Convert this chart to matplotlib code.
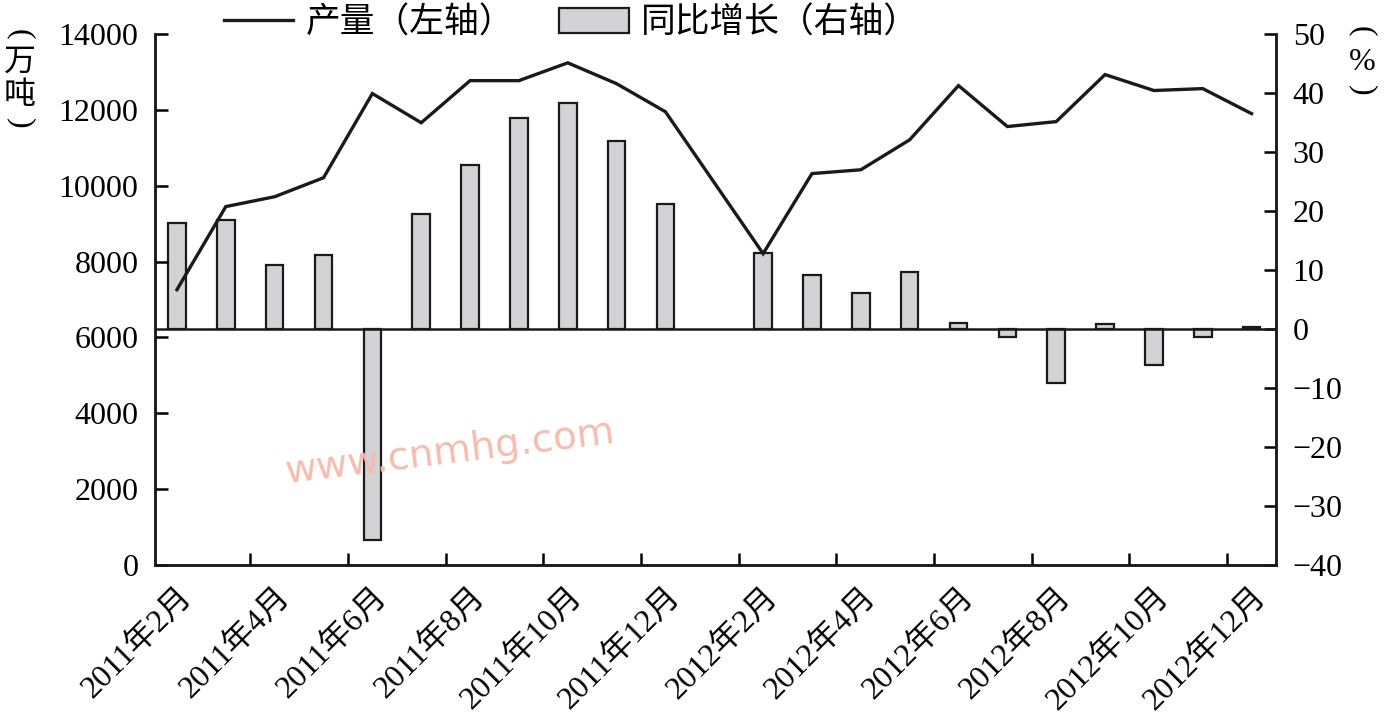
import numpy as np
import matplotlib
matplotlib.use("Agg")
import matplotlib.pyplot as plt
from matplotlib.lines import Line2D
from matplotlib.patches import Patch

plt.rcParams['font.family'] = ['Liberation Serif', 'Noto Sans CJK SC', 'DejaVu Sans']
plt.rcParams['axes.unicode_minus'] = True

# -- Data (2011-02 .. 2012-12, no separate 2012-01 value) --
months = ['2011-02', '2011-03', '2011-04', '2011-05', '2011-06', '2011-07',
          '2011-08', '2011-09', '2011-10', '2011-11', '2011-12', '2012-01',
          '2012-02', '2012-03', '2012-04', '2012-05', '2012-06', '2012-07',
          '2012-08', '2012-09', '2012-10', '2012-11', '2012-12']
output = [7260, 9450, 9710, 10210, 12430, 11660, 12770, 12770, 13240, 12690,
          11950, np.nan, 8210, 10320, 10420, 11210, 12640, 11560, 11690,
          12930, 12510, 12560, 11900]
growth = [18.0, 18.5, 10.8, 12.5, -35.8, 19.5, 27.8, 35.8, 38.3, 31.9, 21.2,
          np.nan, 12.9, 9.2, 6.1, 9.7, 1.0, -1.4, -9.2, 0.8, -6.1, -1.4, 0.3]
tick_labels = ['2011年2月', '2011年4月', '2011年6月', '2011年8月', '2011年10月',
               '2011年12月', '2012年2月', '2012年4月', '2012年6月', '2012年8月',
               '2012年10月', '2012年12月']
left_ticks = [0, 2000, 4000, 6000, 8000, 10000, 12000, 14000]
right_ticks = [-40, -30, -20, -10, 0, 10, 20, 30, 40, 50]

FS = 23
x = np.arange(len(months))
output = np.array(output, dtype=float)
growth = np.array(growth, dtype=float)

fig = plt.figure(figsize=(13.85, 7.22), dpi=100)
ax = fig.add_axes([155/1385, 1 - 565/722, (1276 - 155)/1385, (565 - 34)/722])
ax2 = ax.twinx()

# bars on the right axis, drawn below the line
ok = ~np.isnan(growth)
ax2.bar(x[ok], growth[ok], width=0.36, color='#d3d3d5', edgecolor='#1a1a1a',
        linewidth=1.6)
ax2.axhline(0, color='#1a1a1a', lw=1.8)
ax2.set_ylim(-40, 50)
ax2.set_yticks(right_ticks)

ok = ~np.isnan(output)
ax.plot(x[ok], output[ok], color='#1a1a1a', lw=2.4, solid_joinstyle='miter')
ax.set_ylim(0, 14000)
ax.set_yticks(left_ticks)
ax.set_zorder(ax2.get_zorder() + 1)
ax.patch.set_visible(False)

ax.set_xlim(-0.45, 22.5)
ax.set_xticks(x[::2])
ax.set_xticklabels(tick_labels)
ax.set_xticks(x[1:-1:2] + 0.5, minor=True)
ax.tick_params(axis='x', which='major', length=0, pad=12, labelsize=FS)
ax.tick_params(axis='x', which='minor', direction='in', length=9, width=1.8)
plt.setp(ax.get_xticklabels(), rotation=45, ha='right', va='top',
         rotation_mode='anchor')

ax.tick_params(axis='y', direction='in', length=9, width=1.8, pad=12,
               labelsize=FS)
ax2.tick_params(axis='y', direction='in', length=9, width=1.8, pad=12,
                labelsize=FS)

for a in (ax, ax2):
    a.spines['top'].set_visible(False)
    for s in ('left', 'right', 'bottom'):
        a.spines[s].set_linewidth(1.8)
        a.spines[s].set_color('#1a1a1a')

# axis unit labels, written vertically (parentheses turned sideways)
def vlabel(xpix, items):
    for ch, yy in items:
        rot = -90 if ch in '()' else 0
        fig.text(xpix/1385, 1 - yy/722, ch, fontsize=FS, ha='center',
                 va='center', rotation=rot, rotation_mode='anchor')

vlabel(20, [('(', 34), ('万', 63), ('吨', 97), (')', 123)])
vlabel(1362, [('(', 31), ('%', 62), (')', 90)])

handles = [Line2D([], [], color='#1a1a1a', lw=2.4),
           Patch(facecolor='#d3d3d5', edgecolor='#1a1a1a', linewidth=1.6)]
fig.legend(handles, ['产量（左轴）', '同比增长（右轴）'], ncol=2, frameon=False,
           loc='center left', bbox_to_anchor=(224/1385, 1 - 24/722),
           borderpad=0, borderaxespad=0, handlelength=2.0, handletextpad=0.35,
           columnspacing=1.3, fontsize=25)

fig.text(450/1385, 1 - 452/722, 'www.cnmhg.com', rotation=7, color='#f6bcae',
         fontsize=28, family='DejaVu Sans', ha='center', va='center')

fig.savefig('out.png', dpi=100)
